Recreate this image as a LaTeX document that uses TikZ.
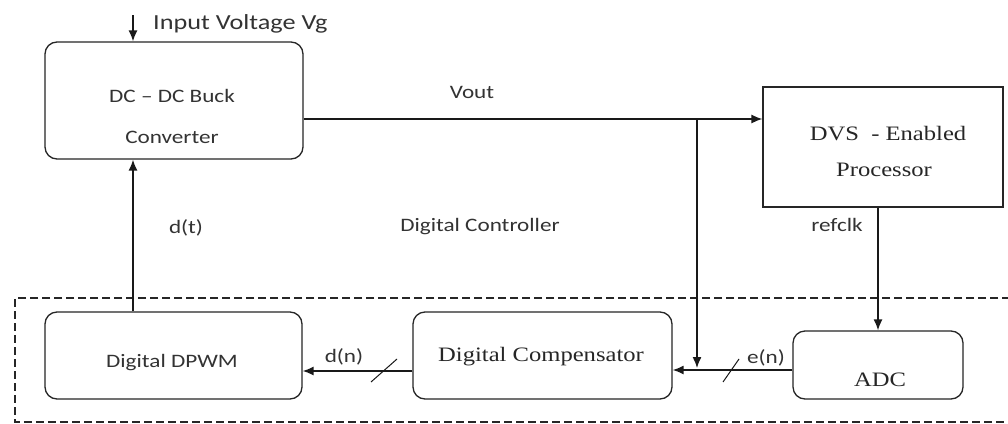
\documentclass[tikz,border=0pt]{standalone}
\usepackage{fontspec}
\setmainfont[FakeStretch=1.22]{Carlito}
\newfontfamily\serifx[FakeStretch=1.2]{Liberation Serif}
\usetikzlibrary{arrows.meta}
\begin{document}
\begin{tikzpicture}[x=1pt,y=-1pt,
  box/.style={draw=black!85,line width=1.3pt,rounded corners=12pt,inner sep=0pt},
  sqbox/.style={draw=black!85,line width=1.2pt,inner sep=0pt},
  txt/.style={text=black!80,font=\fontsize{19}{22}\selectfont,inner sep=0pt},
  bigtxt/.style={txt,font=\fontsize{21.5}{24}\selectfont},
  stxt/.style={text=black!85,font=\serifx\fontsize{20.5}{23}\selectfont,inner sep=0pt},
  conn/.style={line width=1.4pt,draw=black!90},
  arr/.style={conn,-{Latex[length=11pt,width=9pt]}},
  bus/.style={line width=1pt,draw=black!90}]
\useasboundingbox (0,0) rectangle (1008,423);
\fill[white] (0,0) rectangle (1008,423);
% boxes
\node[box,minimum width=258pt,minimum height=117pt] (dc) at (174,100.5) {};
\node[sqbox,minimum width=240pt,minimum height=120pt] (dvs) at (883,147) {};
\node[box,minimum width=257pt,minimum height=87pt] (dpwm) at (173.5,355.5) {};
\node[box,minimum width=259pt,minimum height=87pt] (comp) at (542.5,355.5) {};
\node[box,minimum width=170pt,minimum height=68pt] (adc) at (878,365) {};
% box texts
\node[txt] (dct1) at (172,96) {DC – DC Buck};
\node[txt] (dct2) at (172,137) {Converter};
\node[stxt] (dvst1) at (888,134) {DVS\ \ - Enabled};
\node[stxt] (dvst2) at (884,170) {Processor};
\node[txt] (dpwmt) at (172,363) {Digital DPWM};
\node[stxt] (compt) at (541,357) {Digital Compensator};
\node[stxt] (adct) at (880,380) {ADC};
% dashed controller frame
\draw[line width=1.2pt,draw=black!85,dash pattern=on 8pt off 4pt] (1010,298) -- (15,298) -- (15,422) -- (1010,422);
% labels
\node[bigtxt,anchor=west] (vg) at (153,24) {Input Voltage Vg};
\node[txt] (voutl) at (472,92) {Vout};
\node[txt] (dtl) at (186,228) {d(t)};
\node[txt] (dcl) at (480,227) {Digital Controller};
\node[txt] (refl) at (837,225) {refclk};
\node[txt] (dnl) at (344,357) {d(n)};
\node[txt] (enl) at (766,358) {e(n)};
% connectors
\coordinate (vin) at (133,15);
\draw[arr] (vin) -- (vin |- dc.north);
\draw[arr] (dc.east |- 0,119) coordinate (vo) -- (dvs.west |- vo);
\coordinate (j) at (697,119);
\coordinate (jb) at (697,368);
\draw[arr] (j) -- (jb);
\draw[arr] (adc.north |- dvs.south) -- (adc.north);
\draw[arr] (adc.west |- 0,370) coordinate (en) -- (comp.east |- en);
\draw[arr] (comp.west |- 0,371) coordinate (dn) -- (dpwm.east |- dn);
\draw[arr] (dpwm.north -| vin) -- (dc.south -| vin);
% bus slashes
\coordinate (s1a) at (723,382); \coordinate (s1b) at (739,359);
\draw[bus] (s1a) -- (s1b);
\coordinate (s2a) at (371,382); \coordinate (s2b) at (397,359);
\draw[bus] (s2a) -- (s2b);
\end{tikzpicture}
\end{document}
